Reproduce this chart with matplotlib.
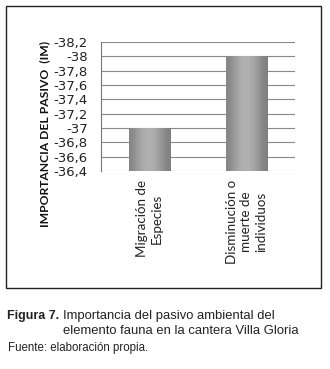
import matplotlib
matplotlib.use("Agg")
import matplotlib.pyplot as plt
import numpy as np
from matplotlib.patches import Rectangle

categories = ["Migración de\nEspecies", "Disminución o\nmuerte de\nindividuos"]
values = [-37.0, -38.0]
y_ticks = [-36.4, -36.6, -36.8, -37.0, -37.2, -37.4, -37.6, -37.8, -38.0, -38.2]
y_label = "IMPORTANCIA DEL PASIVO  (IM)"
caption_bold = "Figura 7."
caption_lines = ["Importancia del pasivo ambiental del",
                 "elemento fauna en la cantera Villa Gloria"]
source_text = "Fuente: elaboración propia."

W, H = 330, 369
fig = plt.figure(figsize=(W / 100, H / 100), dpi=100)
fig.patch.set_facecolor("white")

# outer frame
fig.add_artist(Rectangle((6 / W, 1 - 288 / H), 315 / W, 282 / H, transform=fig.transFigure,
                         fill=False, edgecolor="#222222", linewidth=1.0))

ax = fig.add_axes([101 / W, 1 - 171 / H, 194 / W, 129 / H])
base = y_ticks[0]
x = np.arange(len(categories))
bars = ax.bar(x, [v - base for v in values], bottom=base, width=0.43,
              color="#9c9c9c", edgecolor="#8a8a8a", linewidth=0.6, zorder=3)
ax.set_xlim(-0.5, len(categories) - 0.5)
ax.set_ylim(y_ticks[0], y_ticks[-1])

# gradient shading on bars
grad = np.array([[0.52, 0.62, 0.68, 0.70, 0.66, 0.58, 0.50]])
for b in bars:
    x0, y0 = b.get_x(), b.get_y()
    w, h = b.get_width(), b.get_height()
    im = ax.imshow(grad, cmap="gray", vmin=0, vmax=1, aspect="auto",
                   extent=(x0, x0 + w, y0, y0 + h), interpolation="bicubic", zorder=4)
    im.set_clip_path(b)

ax.set_yticks(y_ticks)
ax.set_yticklabels([f"{v:g}".replace(".", ",") for v in y_ticks],
                   fontsize=9.5, family="DejaVu Sans", color="#222222")
ax.set_xticks(x)
ax.set_xticklabels(categories, rotation=90, fontsize=9.6, family="Lato",
                   color="#222222", va="top", ha="center", linespacing=1.25,
                   multialignment="center")
ax.tick_params(axis="both", length=0)
ax.tick_params(axis="x", pad=6.5)
ax.tick_params(axis="y", pad=9.5)

ax.grid(axis="y", color="#888888", linewidth=0.8, zorder=0)
for s in ["top", "right", "bottom"]:
    ax.spines[s].set_visible(False)
ax.spines["left"].set_color("#777777")
ax.spines["left"].set_linewidth(0.8)

fig.text(45 / W, 1 - 133.5 / H, y_label, rotation=90, ha="center", va="center",
         fontsize=8.7, fontweight="bold", family="Lato", color="#111111")

fig.text(7 / W, 1 - 319 / H, caption_bold, fontsize=9.0, fontweight="bold",
         family="Liberation Sans", ha="left", va="baseline", color="#222222")
for i, line in enumerate(caption_lines):
    fig.text(63 / W, 1 - (319 + 15 * i) / H, line, fontsize=9.4, family="Liberation Sans",
             ha="left", va="baseline", color="#222222")
fig.text(8 / W, 1 - 351 / H, source_text, fontsize=8.3, family="Liberation Sans",
         ha="left", va="baseline", color="#222222")

fig.savefig("out.png", dpi=100)
